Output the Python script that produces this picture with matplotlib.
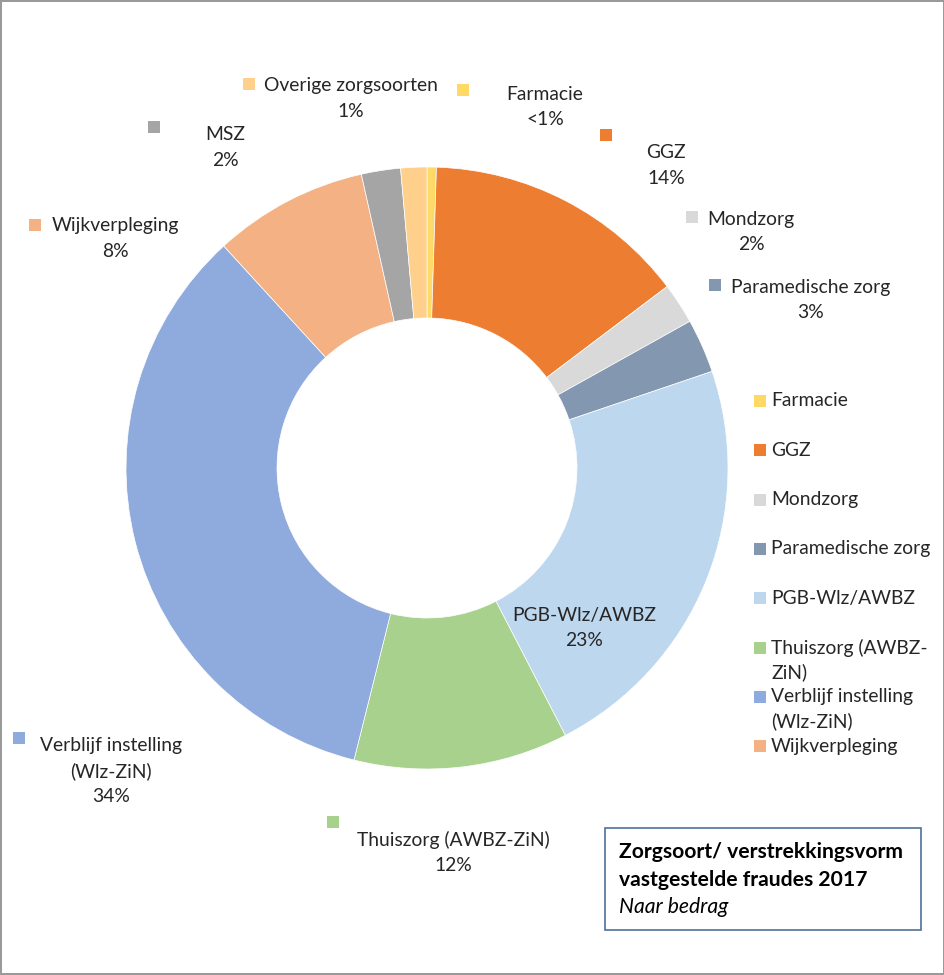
import matplotlib.pyplot as plt
from matplotlib.patches import Rectangle

# slices, clockwise from 12 o'clock
categories = ['Farmacie', 'GGZ', 'Mondzorg', 'Paramedische zorg', 'PGB-Wlz/AWBZ',
              'Thuiszorg (AWBZ-ZiN)', 'Verblijf instelling (Wlz-ZiN)', 'Wijkverpleging',
              'MSZ', 'Overige zorgsoorten']
values = [0.5, 14.2, 2.2, 2.9, 22.6, 11.5, 34.3, 8.3, 2.1, 1.4]
pct_labels = ['<1%', '14%', '2%', '3%', '23%', '12%', '34%', '8%', '2%', '1%']
colors = ['#FFD966', '#ED7D31', '#D9D9D9', '#8497B0', '#BDD7EE',
          '#A9D18E', '#8FAADC', '#F4B183', '#A5A5A5', '#FFD08C']

legend_labels = ['Farmacie', 'GGZ', 'Mondzorg', 'Paramedische zorg', 'PGB-Wlz/AWBZ',
                 'Thuiszorg (AWBZ-\nZiN)', 'Verblijf instelling\n(Wlz-ZiN)', 'Wijkverpleging']

# data label layout in pixel coords: (marker x, marker y, text x, text y, name text)
label_pos = {
    'Farmacie': (463, 90, 545, 94, 'Farmacie'),
    'GGZ': (606, 135, 666, 153, 'GGZ'),
    'Mondzorg': (692, 217, 751, 219, 'Mondzorg'),
    'Paramedische zorg': (715, 285, 811, 287, 'Paramedische zorg'),
    'PGB-Wlz/AWBZ': (None, None, 584, 615, 'PGB-Wlz/AWBZ'),
    'Thuiszorg (AWBZ-ZiN)': (333, 822, 453, 840, 'Thuiszorg (AWBZ-ZiN)'),
    'Verblijf instelling (Wlz-ZiN)': (19, 738, 111, 746, 'Verblijf instelling\n(Wlz-ZiN)'),
    'Wijkverpleging': (35, 225, 115, 226, 'Wijkverpleging'),
    'MSZ': (154, 127, 225, 135, 'MSZ'),
    'Overige zorgsoorten': (249, 84, 351, 86, 'Overige zorgsoorten'),
}

W, H = 945, 975
plt.rcParams['font.family'] = ['Lato', 'DejaVu Sans']
fig = plt.figure(figsize=(W / 100, H / 100), dpi=100)
fig.patch.set_edgecolor('#9a9a9a')
fig.patch.set_linewidth(1.5)
ax = fig.add_axes([0, 0, 1, 1])
ax.set_xlim(0, W)
ax.set_ylim(0, H)
ax.set_aspect('equal')
ax.axis('off')

def py(y):
    return H - y

ax.pie(values, colors=colors, startangle=90, counterclock=False,
       center=(427, py(468)), radius=301,
       wedgeprops=dict(width=151, edgecolor='white', linewidth=0.5))
ax.set_xlim(0, W)
ax.set_ylim(0, H)

fs = 13.9
line = 25.5
for cat, pct, col in zip(categories, pct_labels, colors):
    mx, my, tx, ty, name = label_pos[cat]
    if mx is not None:
        ax.scatter([mx], [py(my)], marker='s', s=72, color=col, linewidths=0)
    lines = name.split('\n') + [pct]
    for i, s in enumerate(lines):
        ax.text(tx, py(ty + i * line), s, ha='center', va='center',
                fontsize=fs, color='#262626')

# legend
for i, (lab, col) in enumerate(zip(legend_labels, colors)):
    y = 401 + 49.3 * i
    ax.scatter([760], [py(y)], marker='s', s=72, color=col, linewidths=0)
    for j, s in enumerate(lab.split('\n')):
        ax.text(771, py(y + j * 24.5), s, ha='left', va='center',
                fontsize=fs, color='#262626')

# title box
ax.add_patch(Rectangle((605, py(930)), 316, 102, fill=False,
                       edgecolor='#4F6F9A', linewidth=1.2))
ax.text(619, py(852), 'Zorgsoort/ verstrekkingsvorm', ha='left', va='center',
        fontsize=15.2, fontweight='bold', color='black')
ax.text(619, py(880), 'vastgestelde fraudes 2017', ha='left', va='center',
        fontsize=15.2, fontweight='bold', color='black')
ax.text(619, py(907), 'Naar bedrag', ha='left', va='center',
        fontsize=15.2, style='italic', color='black')

fig.savefig('out.png', dpi=100, edgecolor=fig.get_edgecolor())
